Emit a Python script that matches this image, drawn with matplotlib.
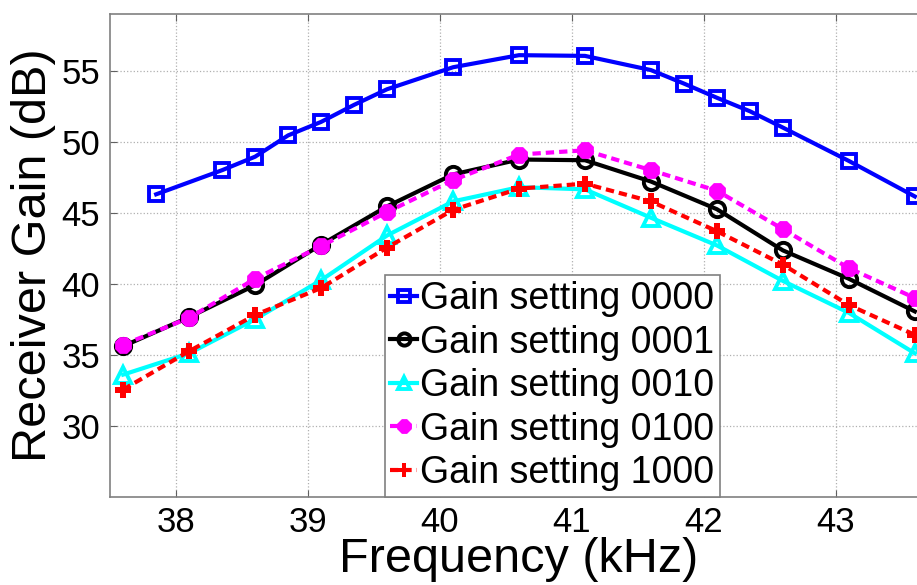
import numpy as np
import matplotlib
matplotlib.use("Agg")
import matplotlib.pyplot as plt

plt.rcParams['font.family'] = ['Liberation Sans', 'DejaVu Sans']

# frequency points (kHz)
freq_0000 = [37.85, 38.35, 38.6, 38.85, 39.1, 39.35, 39.6, 40.1, 40.6,
             41.1, 41.6, 41.85, 42.1, 42.35, 42.6, 43.1, 43.6]
freq = [37.6, 38.1, 38.6, 39.1, 39.6, 40.1, 40.6, 41.1, 41.6, 42.1, 42.6, 43.1, 43.6]

# receiver gain (dB)
gain_0000 = [46.3, 48.0, 48.95, 50.45, 51.4, 52.6, 53.7, 55.25, 56.1,
             56.05, 55.05, 54.1, 53.1, 52.15, 51.0, 48.65, 46.15]
gain_0001 = [35.6, 37.65, 39.9, 42.75, 45.45, 47.7, 48.75, 48.7, 47.2, 45.25, 42.35, 40.35, 38.05]
gain_0010 = [33.6, 35.1, 37.5, 40.25, 43.4, 45.8, 46.8, 46.65, 44.65, 42.7, 40.2, 37.95, 35.1]
gain_0100 = [35.7, 37.6, 40.35, 42.65, 45.05, 47.3, 49.1, 49.4, 48.0, 46.55, 43.85, 41.1, 39.0]
gain_1000 = [32.55, 35.25, 37.8, 39.7, 42.55, 45.2, 46.7, 47.05, 45.8, 43.7, 41.35, 38.5, 36.4]

labels = ['Gain setting 0000', 'Gain setting 0001', 'Gain setting 0010',
          'Gain setting 0100', 'Gain setting 1000']

fig = plt.figure(figsize=(9.17, 5.85), dpi=100)
ax = fig.add_axes([110 / 917, 1 - 496.7 / 585, 818 / 917, (496.7 - 14) / 585])

lw = 3
ax.plot(freq_0000, gain_0000, '-s', color='#0000ff', lw=lw, ms=10, mew=2.8,
        mfc='none', label=labels[0], clip_on=False)
ax.plot(freq, gain_0001, '-o', color='black', lw=lw, ms=11, mew=2.8,
        mfc='none', label=labels[1], clip_on=False)
ax.plot(freq, gain_0010, '-^', color='#00ffff', lw=lw, ms=11, mew=2.8,
        mfc='none', label=labels[2], clip_on=False)
ax.plot(freq, gain_0100, '--8', color='#ff00ff', lw=lw, ms=11, mew=2,
        mfc='#ff00ff', label=labels[3], dashes=(2, 1.2), clip_on=False)
ax.plot(freq, gain_1000, '--P', color='#ff0000', lw=lw, ms=12, mew=0,
        mfc='#ff0000', label=labels[4], dashes=(2, 1.2), clip_on=False)

ax.set_xlim(37.5, 43.7)
ax.set_ylim(25, 59)
ax.set_xticks([38, 39, 40, 41, 42, 43])
ax.set_yticks([30, 35, 40, 45, 50, 55])

ax.grid(True, linestyle=':', color='#b0b0b0', linewidth=0.9)
for s in ax.spines.values():
    s.set_color('#808080')
    s.set_linewidth(1.2)
ax.tick_params(direction='in', length=5, width=0.8, color='#606060',
               labelsize=25, top=True, right=True, pad=7)

ax.set_xlabel('Frequency (kHz)', fontsize=35, labelpad=-2)
ax.set_ylabel('Receiver Gain (dB)', fontsize=35, labelpad=4)

leg = ax.legend(loc='lower left', bbox_to_anchor=(0.336, 0.0), borderaxespad=0,
                fontsize=27, handlelength=0.7, handletextpad=0.1,
                labelspacing=0.2, borderpad=0.15, fancybox=False, framealpha=1,
                edgecolor='#808080', markerscale=0.8)
leg.get_frame().set_linewidth(1.2)

fig.savefig('out.png', dpi=100)
